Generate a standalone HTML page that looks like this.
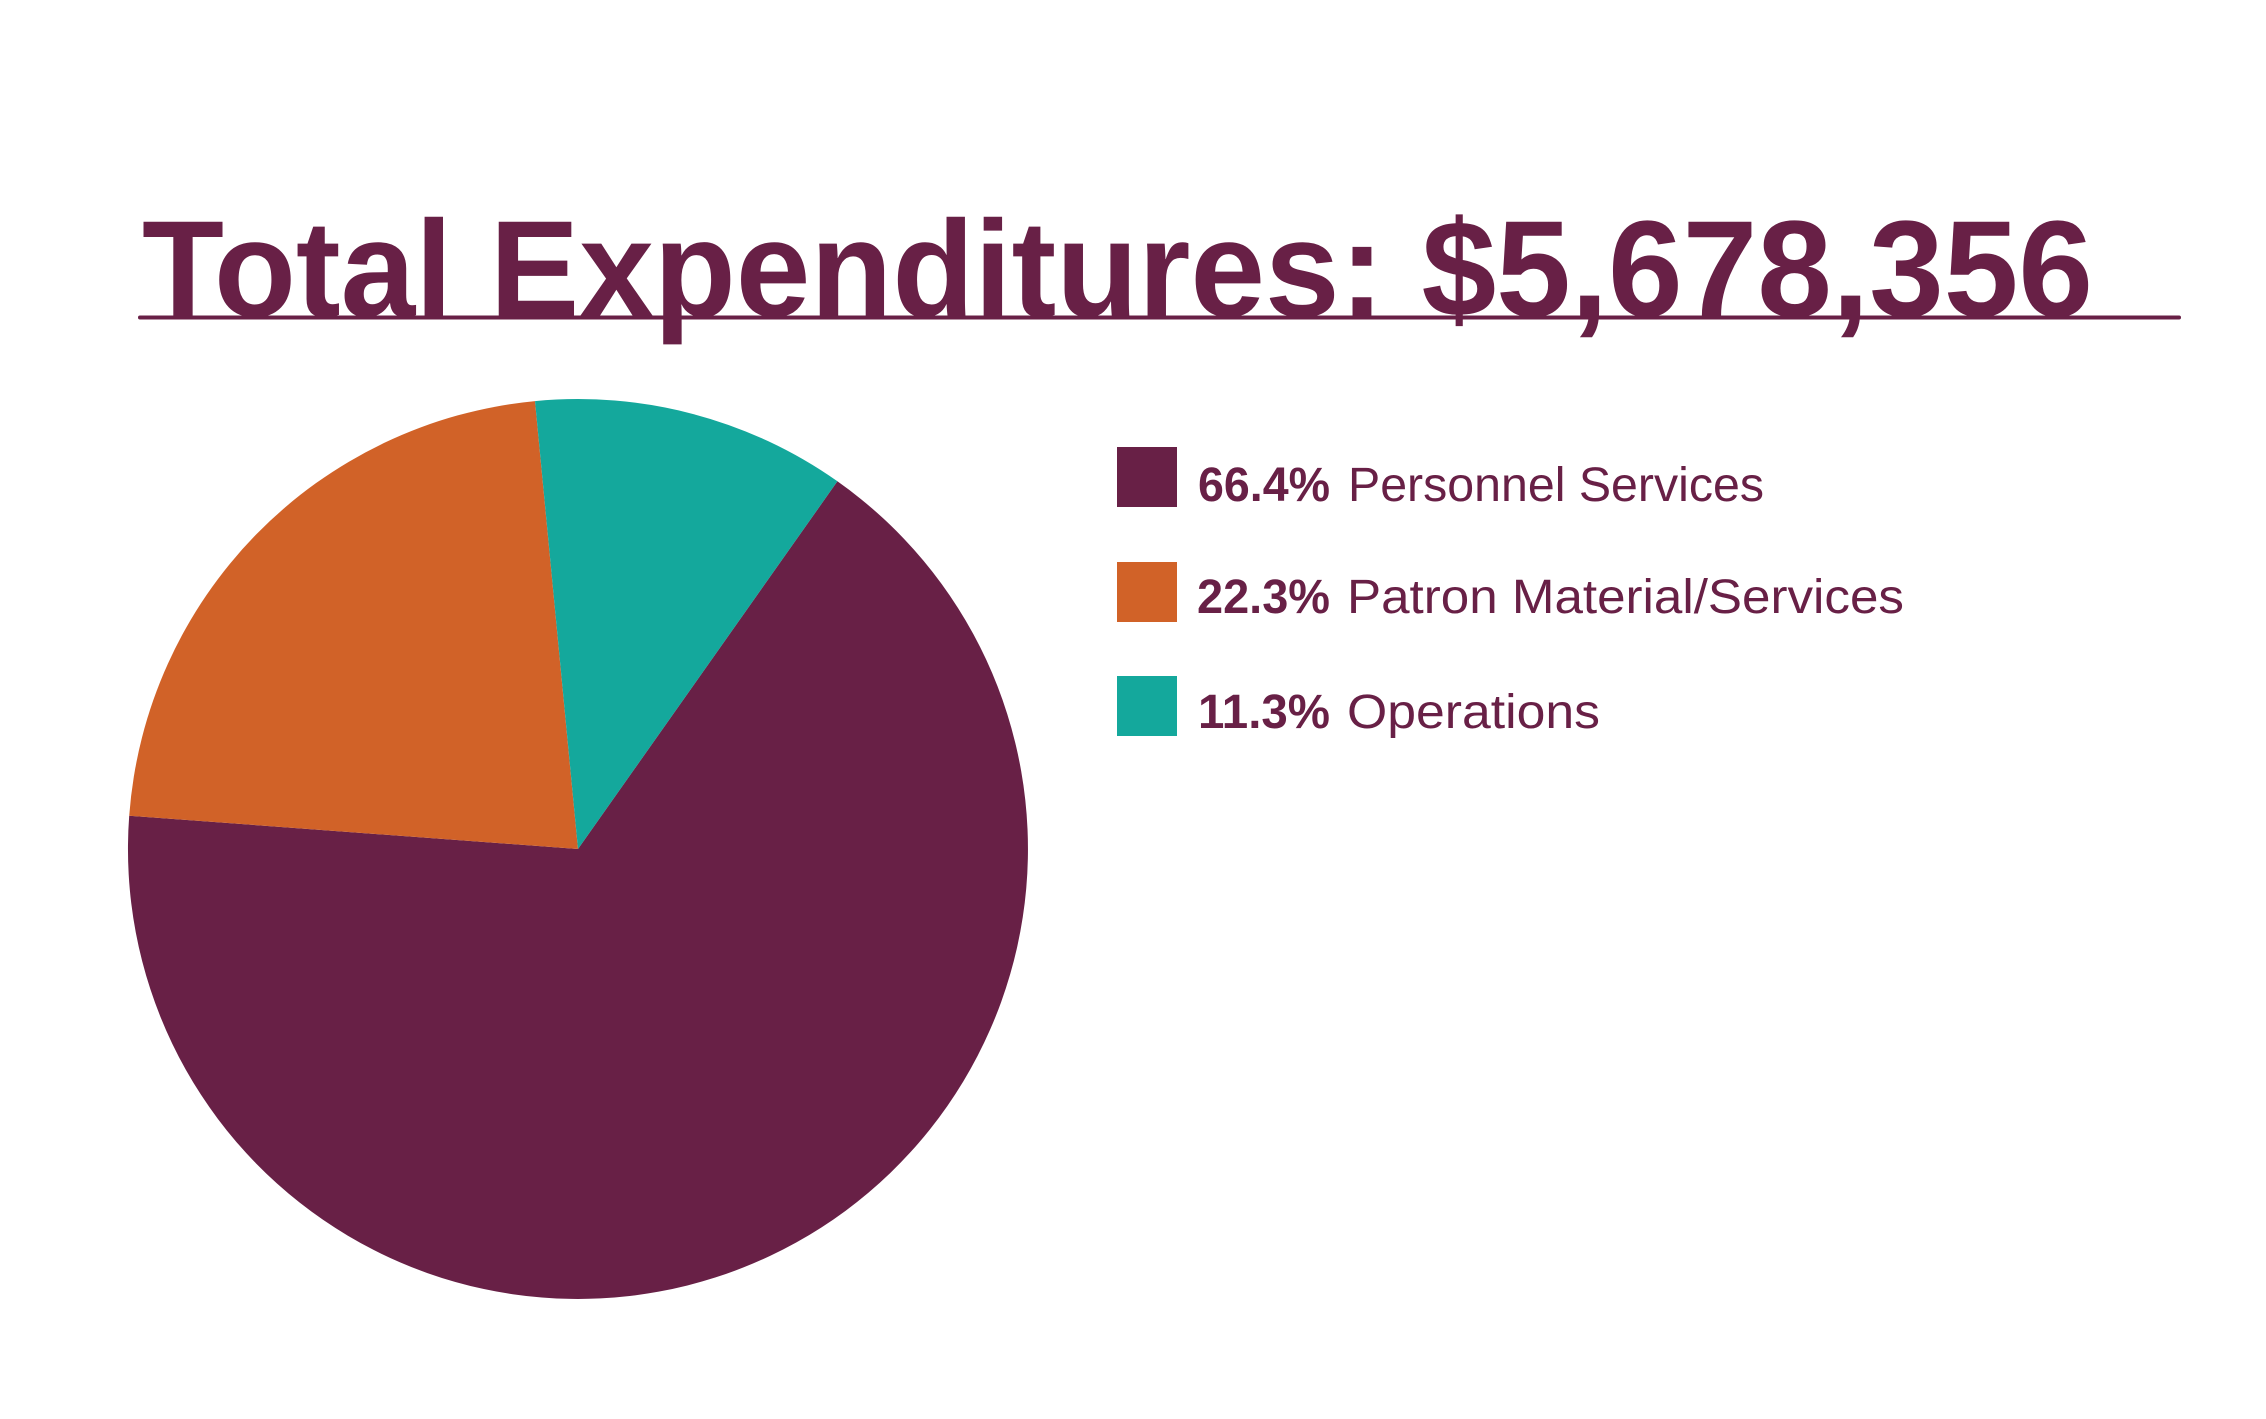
<!DOCTYPE html>
<html>
<head>
<meta charset="utf-8">
<style>
  html, body { margin: 0; padding: 0; background: #ffffff; }
  body { width: 2266px; height: 1419px; overflow: hidden; }
  svg { display: block; }
  .title { font-family: "Liberation Sans", "DejaVu Sans", sans-serif; font-weight: bold; }
  .pct { font-family: "Liberation Sans", "DejaVu Sans", sans-serif; font-weight: bold; }
  .lbl { font-family: "Liberation Sans", "DejaVu Sans", sans-serif; font-weight: normal; }
</style>
</head>
<body>
<svg width="2266" height="1419" viewBox="0 0 2266 1419" xmlns="http://www.w3.org/2000/svg">
  <rect x="0" y="0" width="2266" height="1419" fill="#ffffff"/>

  <!-- Title -->
  <text class="title" x="142" y="316" font-size="137" fill="#682046"
        textLength="1951" lengthAdjust="spacingAndGlyphs">Total Expenditures: $5,678,356</text>
  <line x1="140" y1="317.5" x2="2179" y2="317.5" stroke="#682046" stroke-width="4" stroke-linecap="round"/>

  <!-- Pie -->
  <path d="M 578 849 L 837.4 481.3 A 450 450 0 1 1 129.2 815.7 Z" fill="#682046"/>
  <path d="M 578 849 L 129.2 815.7 A 450 450 0 0 1 535.0 401.1 Z" fill="#D16228"/>
  <path d="M 578 849 L 535.0 401.1 A 450 450 0 0 1 837.4 481.3 Z" fill="#14A89C"/>

  <!-- Legend -->
  <rect x="1117" y="447" width="60" height="60" fill="#682046"/>
  <text class="pct" x="1198" y="501" font-size="48" fill="#682046" textLength="132" lengthAdjust="spacingAndGlyphs">66.4%</text>
  <text class="lbl" x="1348" y="501" font-size="48" fill="#682046" textLength="416" lengthAdjust="spacingAndGlyphs">Personnel Services</text>

  <rect x="1117" y="562" width="60" height="60" fill="#D16228"/>
  <text class="pct" x="1197" y="613" font-size="48" fill="#682046" textLength="133" lengthAdjust="spacingAndGlyphs">22.3%</text>
  <text class="lbl" x="1347" y="613" font-size="48" fill="#682046" textLength="557" lengthAdjust="spacingAndGlyphs">Patron Material/Services</text>

  <rect x="1117" y="676" width="60" height="60" fill="#14A89C"/>
  <text class="pct" x="1198" y="728" font-size="48" fill="#682046" textLength="132" lengthAdjust="spacingAndGlyphs">11.3%</text>
  <text class="lbl" x="1347" y="728" font-size="48" fill="#682046" textLength="253" lengthAdjust="spacingAndGlyphs">Operations</text>
</svg>
</body>
</html>
